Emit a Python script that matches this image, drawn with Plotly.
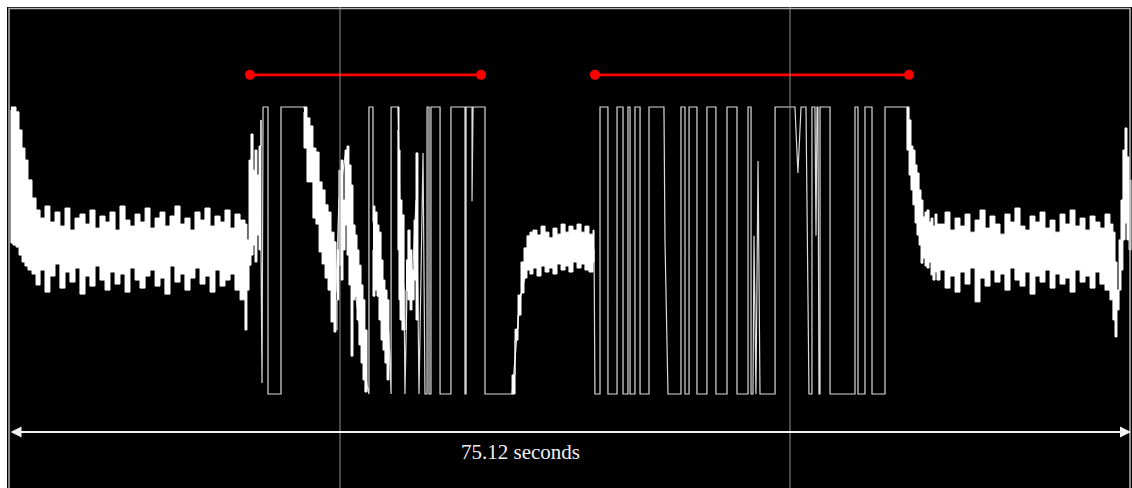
import plotly.graph_objects as go

# ---- time base and levels (seconds, percent of full logic level) ----
DURATION = 75.12
LABEL = "75.12 seconds"
GRID_TIMES = [22.16, 52.29]

# marked runs (red bars)
RUN_STARTS = [16.14, 39.23]
RUN_ENDS = [31.60, 60.26]
RUN_LEVEL = 111.2

ARROW_LEVEL = -13.2
LABEL_TIME = 34.27
LABEL_LEVEL = -20.2

# ---- noisy idle signal, left block (upper / lower envelope) ----
LEFT_T = [0.13, 0.27, 0.47, 0.67, 0.87, 1.07, 1.27, 1.54, 1.81,
          2.08, 2.41, 2.74, 3.08, 3.41, 3.75, 4.08, 4.42, 4.75, 5.09,
          5.42, 5.76, 6.09, 6.43, 6.76, 7.10, 7.43, 7.77, 8.10, 8.44,
          8.77, 9.11, 9.44, 9.78, 10.11, 10.44, 10.78, 11.11, 11.45, 11.78,
          12.12, 12.45, 12.79, 13.12, 13.46, 13.79, 14.13, 14.46, 14.80, 15.13,
          15.47, 15.80,
          15.93, 16.07, 16.20, 16.34, 16.47, 16.60, 16.74, 16.87]
LEFT_HI = [100.0, 100.0, 98.3, 92.0, 85.7, 81.5, 74.6, 68.3, 64.1,
           61.3, 65.5, 59.9, 63.4, 58.5, 64.8, 57.1, 61.3, 62.7, 59.2,
           64.1, 57.8, 62.0, 59.9, 63.4, 57.1, 65.5, 60.6, 58.5, 62.7,
           59.9, 64.8, 57.8, 61.3, 63.4, 58.5, 62.0, 65.5, 59.2, 61.3,
           57.1, 63.4, 60.6, 64.8, 58.5, 62.0, 59.9, 64.1, 57.8, 62.7,
           60.6, 59.2,
           53.7, 81.5, 90.6, 78.0, 85.0, 76.3, 86.4, 95.5]
LEFT_LO = [99.0, 52.6, 51.9, 51.2, 48.4, 46.0, 44.6, 43.2, 41.8,
           38.0, 43.2, 35.5, 41.1, 45.3, 36.9, 42.5, 39.0, 43.9, 34.8,
           41.1, 37.6, 44.6, 39.7, 36.2, 42.5, 38.3, 41.8, 35.5, 43.9,
           39.7, 36.9, 41.1, 43.2, 37.6, 40.4, 34.8, 44.6, 39.0, 41.8,
           36.2, 40.4, 43.9, 38.3, 41.1, 35.5, 43.2, 37.6, 39.7, 41.8,
           36.2, 32.8,
           22.3, 36.2, 44.9, 48.4, 51.9, 46.0, 55.4, 50.2]

# ---- noisy decays inside the first burst ----
D1_T = [19.75, 19.95, 20.15, 20.35, 20.55, 20.76, 20.96, 21.16, 21.36, 21.56, 21.76, 21.89]
D1_HI = [100.0, 96.2, 93.4, 85.7, 84.3, 73.9, 71.1, 65.9, 63.4, 56.4, 53.0, 48.1]
D1_LO = [98.3, 85.7, 73.9, 73.9, 61.3, 59.2, 49.5, 45.3, 40.4, 36.2, 25.1, 21.6]

D2_T = [21.96, 22.09, 22.23, 22.36, 22.50, 22.63, 22.76, 22.90, 23.03, 23.17, 23.30, 23.43,
        23.57, 23.70, 23.83, 23.97]
D2_HI = [50.2, 78.0, 81.5, 67.6, 85.0, 86.4, 79.8, 72.8, 58.9, 55.4, 50.2, 44.9,
         38.0, 32.8, 22.3, 11.8]
D2_LO = [22.3, 32.8, 44.9, 39.7, 50.2, 58.9, 48.4, 38.0, 13.2, 32.8, 34.1, 25.8,
         17.1, 10.8, 4.9, 0.7]

D3_T = [24.37, 24.50, 24.64, 24.77, 24.91, 25.04, 25.17, 25.31, 25.44]
D3_HI = [65.5, 63.4, 58.9, 56.4, 46.7, 39.7, 36.2, 32.8, 25.8]
D3_LO = [50.2, 34.1, 36.2, 34.1, 25.8, 18.8, 15.3, 10.8, 4.9]

D4_T = [26.04, 26.11, 26.18, 26.31, 26.45]
D4_HI = [100.0, 85.0, 67.6, 62.4, 50.2]
D4_LO = [92.0, 50.2, 32.8, 25.8, 22.3]

D5_T = [26.58, 26.71, 26.85, 26.98, 27.12, 27.25, 27.38]
D5_HI = [46.7, 57.1, 50.2, 43.2, 60.6, 84.0, 67.6]
D5_LO = [22.3, 36.2, 32.8, 29.3, 32.8, 39.7, 25.8]

# ---- recovery and idle plateau between the bursts ----
PLATEAU_T = [33.68, 33.88, 34.08, 34.28, 34.48, 34.68, 34.88, 35.08, 35.35, 35.62, 35.89, 36.15,
             36.42, 36.69, 36.96, 37.23, 37.49, 37.76, 38.03, 38.30, 38.56, 38.83, 39.10, 39.17]
PLATEAU_HI = [0.0, 22.6, 34.5, 46.0, 50.9, 55.1, 56.4, 57.1, 55.4, 58.5, 56.4, 54.4,
              57.8, 55.7, 59.2, 56.4, 58.5, 57.1, 59.2, 56.4, 58.5, 55.7, 57.1, 53.7]
PLATEAU_LO = [0.0, 6.6, 18.8, 27.5, 35.2, 40.4, 43.2, 41.8, 43.9, 41.1, 44.6, 42.5,
              43.9, 41.8, 45.3, 43.2, 44.6, 42.5, 46.0, 43.9, 45.3, 43.2, 42.5, 46.0]

# ---- noisy idle signal, right block ----
RIGHT_T = [60.12, 60.26, 60.39, 60.52, 60.66, 60.79, 60.93, 61.06, 61.19, 61.33, 61.46, 61.60,
           61.73, 61.86, 62.00, 62.13,
           62.33, 62.67, 63.00, 63.34, 63.67, 64.01, 64.34, 64.68, 65.01, 65.35,
           65.68, 66.01, 66.35, 66.68, 67.02, 67.35, 67.69, 68.02, 68.36, 68.69,
           69.03, 69.36, 69.70, 70.03, 70.37, 70.70, 71.04, 71.37, 71.71, 72.04,
           72.38, 72.71, 73.04, 73.38, 73.71,
           73.91, 74.05, 74.18, 74.32, 74.45, 74.58, 74.72, 74.85, 74.99, 75.12]
RIGHT_HI = [100.0, 95.5, 86.4, 85.0, 79.8, 77.0, 71.1, 67.6, 61.7, 63.4, 64.1, 59.9,
            61.3, 58.5, 62.7, 59.2,
            59.2, 63.4, 57.1, 61.3, 58.5, 62.7, 56.4, 60.6, 64.1, 57.8,
            62.0, 59.2, 55.7, 62.7, 59.9, 64.8, 58.5, 57.1, 62.0, 59.9,
            63.4, 57.8, 60.6, 56.4, 62.7, 59.2, 64.1, 58.5, 61.3, 57.1,
            62.0, 59.9, 57.8, 62.7, 59.2,
            56.4, 46.0, 36.2, 53.7, 67.6, 85.0, 92.7, 82.6, 74.6, 67.6]
RIGHT_LO = [100.0, 85.0, 76.3, 71.1, 65.9, 59.6, 55.4, 51.9, 45.6, 47.4, 44.6, 43.9,
            46.0, 41.5, 39.7, 42.5,
            39.7, 43.2, 36.9, 41.1, 35.5, 42.5, 38.3, 43.9, 32.1, 40.4,
            37.6, 43.2, 39.0, 41.8, 36.2, 43.9, 39.7, 37.6, 42.5, 34.8,
            41.1, 39.0, 43.2, 36.9, 41.8, 38.3, 40.4, 35.5, 43.2, 39.0,
            41.1, 36.9, 42.5, 38.3, 36.2,
            32.8, 25.8, 19.9, 29.3, 36.2, 43.2, 53.7, 59.6, 53.7, 50.2]

# ---- switching trace through both bursts ----
WAVE_T = [16.87, 16.94, 17.01, 17.34, 17.34, 18.21, 18.21, 19.75, 20.82, 21.89,
          22.09, 22.56, 23.17, 23.97, 24.10, 24.10, 24.37, 24.37, 24.91, 25.44,
          25.58, 25.58, 26.04, 26.25, 26.45, 26.51, 26.65, 26.98, 27.25, 27.38,
          27.45, 27.58, 27.72, 27.85, 27.99, 27.99, 28.12, 28.12, 28.25, 28.25,
          28.86, 28.86, 29.59, 29.59, 30.53, 30.53, 30.60, 30.60, 31.00, 31.00,
          31.07, 31.87, 31.87, 33.68, 34.21, 34.88, 39.17, 39.23, 39.57, 39.57,
          40.10, 40.10, 40.71, 40.71, 41.11, 41.11, 41.44, 41.44, 41.58, 41.58,
          41.91, 41.91, 42.25, 42.25, 42.85, 42.85, 43.85, 43.92, 44.05, 44.12,
          44.99, 44.99, 45.26, 45.26, 45.53, 45.53, 46.06, 46.06, 46.73, 46.73,
          47.33, 47.33, 48.07, 48.07, 48.74, 48.74, 49.48, 49.48, 49.68, 49.68,
          49.81, 49.88, 50.01, 50.15, 50.28, 51.29, 51.29, 52.62, 52.82, 53.03,
          53.36, 53.43, 53.56, 53.76, 53.76, 53.96, 54.03, 54.10, 54.16, 54.23,
          54.30, 54.30, 54.97, 54.97, 56.64, 56.64, 56.84, 56.84, 57.31, 57.31,
          57.78, 57.78, 58.65, 58.65, 60.12]
WAVE_V = [50.2, 3.8, 100.0, 100.0, 0.0, 0.0, 100.0, 100.0, 67.6, 35.5,
          67.6, 85.0, 36.2, 3.1, 0.0, 100.0, 100.0, 60.6, 43.2, 20.6,
          0.0, 100.0, 100.0, 46.7, 36.2, 0.0, 36.2, 36.2, 67.6, 32.8,
          0.0, 46.7, 84.0, 0.0, 0.0, 100.0, 100.0, 0.0, 0.0, 100.0,
          100.0, 0.0, 0.0, 100.0, 100.0, 0.0, 0.0, 100.0, 100.0, 67.2,
          100.0, 100.0, 0.0, 0.0, 32.8, 48.4, 50.2, 0.0, 0.0, 100.0,
          100.0, 0.0, 0.0, 100.0, 100.0, 0.0, 0.0, 100.0, 100.0, 0.0,
          0.0, 100.0, 100.0, 0.0, 0.0, 100.0, 100.0, 53.3, 14.3, 0.0,
          0.0, 100.0, 100.0, 0.0, 0.0, 100.0, 100.0, 0.0, 0.0, 100.0,
          100.0, 0.0, 0.0, 100.0, 100.0, 0.0, 0.0, 100.0, 100.0, 0.0,
          0.0, 55.1, 0.0, 81.2, 0.0, 0.0, 100.0, 100.0, 77.0, 100.0,
          100.0, 55.1, 0.0, 0.0, 100.0, 100.0, 55.1, 100.0, 100.0, 0.0,
          0.0, 100.0, 100.0, 0.0, 0.0, 100.0, 100.0, 0.0, 0.0, 100.0,
          100.0, 0.0, 0.0, 100.0, 100.0]

TRACE_WHITE = "#ffffff"
WAVE_GREY = "#dcdcdc"


def band(t, hi, lo):
    """Filled envelope for a noisy stretch of the signal, drawn as sample steps."""
    if not (len(t) == len(hi) == len(lo)):
        raise ValueError("envelope arrays differ in length")
    return go.Scatter(
        x=list(t) + list(t)[::-1],
        y=list(hi) + list(lo)[::-1],
        mode="lines",
        fill="toself",
        fillcolor=TRACE_WHITE,
        line=dict(color=TRACE_WHITE, width=1, shape="hv"),
        hoverinfo="skip",
    )


if len(WAVE_T) != len(WAVE_V):
    raise ValueError("wave arrays differ in length")

fig = go.Figure()

fig.add_trace(go.Scatter(x=WAVE_T, y=WAVE_V, mode="lines",
                         line=dict(color=WAVE_GREY, width=1.2), hoverinfo="skip"))

for t, hi, lo in [(LEFT_T, LEFT_HI, LEFT_LO), (D1_T, D1_HI, D1_LO), (D2_T, D2_HI, D2_LO),
                  (D3_T, D3_HI, D3_LO), (D4_T, D4_HI, D4_LO), (D5_T, D5_HI, D5_LO),
                  (PLATEAU_T, PLATEAU_HI, PLATEAU_LO), (RIGHT_T, RIGHT_HI, RIGHT_LO)]:
    fig.add_trace(band(t, hi, lo))

# red bars marking the two runs
run_x, run_y = [], []
for a, b in zip(RUN_STARTS, RUN_ENDS):
    run_x += [a, b, None]
    run_y += [RUN_LEVEL, RUN_LEVEL, None]
fig.add_trace(go.Scatter(x=run_x, y=run_y, mode="lines+markers",
                         line=dict(color="#ff0000", width=2.6),
                         marker=dict(color="#ff0000", size=10),
                         hoverinfo="skip"))

# grid lines drawn over the trace
shapes = []
for g in GRID_TIMES:
    shapes.append(dict(type="line", xref="x", yref="paper", x0=g, x1=g, y0=0, y1=1,
                       line=dict(color="#8c8c8c", width=1), layer="above"))
# inner frame
shapes.append(dict(type="path", xref="paper", yref="paper",
                   path="M 0.00178,-0.05 L 0.00178,0.99688 L 0.99822,0.99688 L 0.99822,-0.05",
                   line=dict(color="#b4b4b4", width=1.5), layer="above"))

annotations = [
    dict(x=DURATION, y=ARROW_LEVEL, ax=0, ay=ARROW_LEVEL, xref="x", yref="y",
         axref="x", ayref="y", text="", showarrow=True,
         arrowhead=2, startarrowhead=2, arrowside="end+start",
         arrowsize=1.1, startarrowsize=1.1, arrowwidth=2, arrowcolor="#f2f2f2",
         standoff=0, startstandoff=0),
    dict(x=LABEL_TIME, y=LABEL_LEVEL, xref="x", yref="y", text=LABEL, showarrow=False,
         xanchor="center", yanchor="middle",
         font=dict(family="Liberation Serif, Times New Roman, serif", size=21, color="#f0f0f0")),
]

fig.update_layout(
    width=1132, height=488, autosize=False,
    margin=dict(l=7, r=0, t=7, b=0),
    paper_bgcolor="#ffffff", plot_bgcolor="#000000",
    showlegend=False, hovermode=False,
    shapes=shapes, annotations=annotations,
    xaxis=dict(range=[-0.134, 75.187], showgrid=False, zeroline=False,
               showticklabels=False, ticks="", showline=False, fixedrange=True),
    yaxis=dict(range=[-32.75, 134.84], showgrid=False, zeroline=False,
               showticklabels=False, ticks="", showline=False, fixedrange=True),
)

fig.write_html("out.html", config={"displayModeBar": False, "staticPlot": True})
